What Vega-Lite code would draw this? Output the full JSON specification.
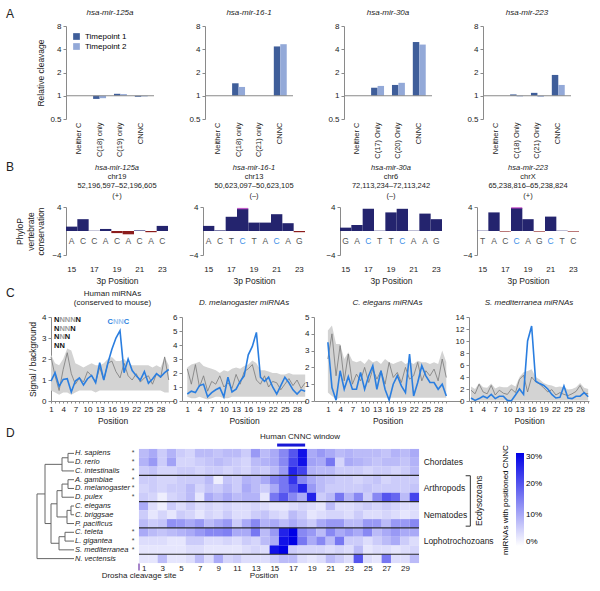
{
"$schema":"https://vega.github.io/schema/vega-lite/v6.json",
"padding":{"left":6,"top":8,"right":0,"bottom":0},
"background":"white",
"config":{
 "font":"Liberation Sans",
 "view":{"stroke":null},
 "axis":{"labelFontSize":8,"titleFontSize":8.5,"titleFontWeight":"normal","domainColor":"#8a8a8a","tickColor":"#8a8a8a","labelColor":"#222","titleColor":"#222","grid":false,"tickSize":3,"labelOverlap":false},
 "title":{"fontSize":8,"fontWeight":"normal","color":"#222","subtitleColor":"#222"},
 "legend":{"labelFontSize":8,"titleFontSize":8,"titleFontWeight":"normal"}
},
"spacing":2,
"vconcat":[
 {"bounds":"flush","spacing":51,"resolve":{"scale":{"x":"independent","y":"independent","color":"independent"}},"hconcat":[
  {"width":9,"height":93,"data":{"values":[{}]},"mark":{"type":"point","opacity":0},"encoding":{},"title":{"text":"A","anchor":"start","fontSize":12,"fontWeight":"normal","offset":5,"frame":"group"}},
  {"width":88,"height":93,"title":{"text":"hsa-mir-125a","fontStyle":"italic","offset":5},
   "data":{"values":[{"cat":"Neither C","tp":"Timepoint 1","val":1},{"cat":"Neither C","tp":"Timepoint 2","val":1},{"cat":"C(18) only","tp":"Timepoint 1","val":0.91},{"cat":"C(18) only","tp":"Timepoint 2","val":0.93},{"cat":"C(19) only","tp":"Timepoint 1","val":1.06},{"cat":"C(19) only","tp":"Timepoint 2","val":1.05},{"cat":"CNNC","tp":"Timepoint 1","val":0.97},{"cat":"CNNC","tp":"Timepoint 2","val":0.98}]},
   "layer":[
    {"mark":{"type":"bar"},"encoding":{
      "x":{"field":"cat","type":"nominal","sort":null,"scale":{"paddingInner":0.38,"paddingOuter":0.3},"axis":{"title":null,"labelAngle":-90,"domain":false,"ticks":false,"labelPadding":3,"labelFontSize":7.5}},
      "xOffset":{"field":"tp","type":"nominal"},
      "y":{"field":"val","type":"quantitative","scale":{"type":"log","domain":[0.5,8],"nice":false},"axis":{"values":[0.5,1,2,4,8],"title":"Relative cleavage","format":"~g","labelOverlap":false}},
      "y2":{"datum":1},
      "color":{"field":"tp","type":"nominal","scale":{"domain":["Timepoint 1","Timepoint 2"],"range":["#3f5e9a","#93a9d8"]},"legend":{"orient":"top-left","title":null,"symbolType":"square","symbolSize":45,"labelFontSize":8,"offset":6,"rowPadding":1}}}},
    {"data":{"values":[{}]},"mark":{"type":"rule","color":"#8a8a8a"},"encoding":{"y":{"datum":1}}}
   ]},
  {"width":88,"height":93,"title":{"text":"hsa-mir-16-1","fontStyle":"italic","offset":5},
   "data":{"values":[{"cat":"Neither C","tp":"Timepoint 1","val":1},{"cat":"Neither C","tp":"Timepoint 2","val":1},{"cat":"C(18) only","tp":"Timepoint 1","val":1.45},{"cat":"C(18) only","tp":"Timepoint 2","val":1.3},{"cat":"C(21) only","tp":"Timepoint 1","val":1},{"cat":"C(21) only","tp":"Timepoint 2","val":1},{"cat":"CNNC","tp":"Timepoint 1","val":4.35},{"cat":"CNNC","tp":"Timepoint 2","val":4.65}]},
   "layer":[
    {"mark":{"type":"bar"},"encoding":{
      "x":{"field":"cat","type":"nominal","sort":null,"scale":{"paddingInner":0.38,"paddingOuter":0.3},"axis":{"title":null,"labelAngle":-90,"domain":false,"ticks":false,"labelPadding":3,"labelFontSize":7.5}},
      "xOffset":{"field":"tp","type":"nominal"},
      "y":{"field":"val","type":"quantitative","scale":{"type":"log","domain":[0.5,8],"nice":false},"axis":{"values":[0.5,1,2,4,8],"title":null,"format":"~g","labelOverlap":false}},
      "y2":{"datum":1},
      "color":{"field":"tp","type":"nominal","scale":{"domain":["Timepoint 1","Timepoint 2"],"range":["#3f5e9a","#93a9d8"]},"legend":null}}},
    {"data":{"values":[{}]},"mark":{"type":"rule","color":"#8a8a8a"},"encoding":{"y":{"datum":1}}}
   ]},
  {"width":88,"height":93,"title":{"text":"hsa-mir-30a","fontStyle":"italic","offset":5},
   "data":{"values":[{"cat":"Neither C","tp":"Timepoint 1","val":1},{"cat":"Neither C","tp":"Timepoint 2","val":1},{"cat":"C(17) Only","tp":"Timepoint 1","val":1.27},{"cat":"C(17) Only","tp":"Timepoint 2","val":1.34},{"cat":"C(20) Only","tp":"Timepoint 1","val":1.38},{"cat":"C(20) Only","tp":"Timepoint 2","val":1.47},{"cat":"CNNC","tp":"Timepoint 1","val":4.96},{"cat":"CNNC","tp":"Timepoint 2","val":4.6}]},
   "layer":[
    {"mark":{"type":"bar"},"encoding":{
      "x":{"field":"cat","type":"nominal","sort":null,"scale":{"paddingInner":0.38,"paddingOuter":0.3},"axis":{"title":null,"labelAngle":-90,"domain":false,"ticks":false,"labelPadding":3,"labelFontSize":7.5}},
      "xOffset":{"field":"tp","type":"nominal"},
      "y":{"field":"val","type":"quantitative","scale":{"type":"log","domain":[0.5,8],"nice":false},"axis":{"values":[0.5,1,2,4,8],"title":null,"format":"~g","labelOverlap":false}},
      "y2":{"datum":1},
      "color":{"field":"tp","type":"nominal","scale":{"domain":["Timepoint 1","Timepoint 2"],"range":["#3f5e9a","#93a9d8"]},"legend":null}}},
    {"data":{"values":[{}]},"mark":{"type":"rule","color":"#8a8a8a"},"encoding":{"y":{"datum":1}}}
   ]},
  {"width":88,"height":93,"title":{"text":"hsa-mir-223","fontStyle":"italic","offset":5},
   "data":{"values":[{"cat":"Neither C","tp":"Timepoint 1","val":1},{"cat":"Neither C","tp":"Timepoint 2","val":1},{"cat":"C(18) Only","tp":"Timepoint 1","val":1.04},{"cat":"C(18) Only","tp":"Timepoint 2","val":0.98},{"cat":"C(21) Only","tp":"Timepoint 1","val":1.09},{"cat":"C(21) Only","tp":"Timepoint 2","val":0.97},{"cat":"CNNC","tp":"Timepoint 1","val":1.86},{"cat":"CNNC","tp":"Timepoint 2","val":1.38}]},
   "layer":[
    {"mark":{"type":"bar"},"encoding":{
      "x":{"field":"cat","type":"nominal","sort":null,"scale":{"paddingInner":0.38,"paddingOuter":0.3},"axis":{"title":null,"labelAngle":-90,"domain":false,"ticks":false,"labelPadding":3,"labelFontSize":7.5}},
      "xOffset":{"field":"tp","type":"nominal"},
      "y":{"field":"val","type":"quantitative","scale":{"type":"log","domain":[0.5,8],"nice":false},"axis":{"values":[0.5,1,2,4,8],"title":null,"format":"~g","labelOverlap":false}},
      "y2":{"datum":1},
      "color":{"field":"tp","type":"nominal","scale":{"domain":["Timepoint 1","Timepoint 2"],"range":["#3f5e9a","#93a9d8"]},"legend":null}}},
    {"data":{"values":[{}]},"mark":{"type":"rule","color":"#8a8a8a"},"encoding":{"y":{"datum":1}}}
   ]}
 ]},
 {"bounds":"flush","spacing":35,"resolve":{"scale":{"x":"independent","y":"independent","color":"independent"}},"hconcat":[
  {"width":25,"height":48,"data":{"values":[{}]},"mark":{"type":"point","opacity":0},"encoding":{},"title":{"text":"B","anchor":"start","fontSize":12,"fontWeight":"normal","offset":33,"frame":"group"}},
  {"width":102,"height":48,
   "title":{"text":"hsa-mir-125a","subtitle":["chr19","52,196,597–52,196,605","(+)"],"fontStyle":"italic","subtitleFontStyle":"normal","fontSize":7.5,"subtitleFontSize":7.5,"subtitlePadding":1,"offset":4},
   "data":{"values":[{"pos":15,"v":0.73,"nt":"A","hl":false,"mg":false},{"pos":16,"v":1.97,"nt":"C","hl":false,"mg":false},{"pos":17,"v":0.05,"nt":"C","hl":false,"mg":false},{"pos":18,"v":0.34,"nt":"A","hl":false,"mg":false},{"pos":19,"v":-0.35,"nt":"C","hl":false,"mg":false},{"pos":20,"v":-0.55,"nt":"A","hl":false,"mg":false},{"pos":21,"v":0.1,"nt":"C","hl":false,"mg":false},{"pos":22,"v":-0.2,"nt":"A","hl":false,"mg":false},{"pos":23,"v":0.85,"nt":"C","hl":false,"mg":false}]},
   "layer":[
    {"mark":{"type":"bar"},"encoding":{
      "x":{"field":"pos","type":"ordinal","scale":{"paddingInner":0,"paddingOuter":0},"axis":{"labelAngle":0,"ticks":false,"domain":false,"labelPadding":10,"labelExpr":"datum.value % 2 == 1 ? datum.label : ''","title":"3p Position","titlePadding":3}},
      "y":{"field":"v","type":"quantitative","scale":{"domain":[-4,4],"nice":false},"axis":{"values":[-4,0,4],"title":["PhyloP","vertebrate","conservation"],"titlePadding":6,"labelOverlap":false}},
      "color":{"condition":{"test":"datum.v < 0","value":"#8c1d1d"},"value":"#24246e"}}},
    {"mark":{"type":"text","fontSize":8.5,"baseline":"middle"},"encoding":{
      "x":{"field":"pos","type":"ordinal"},"y":{"datum":-1.6},"text":{"field":"nt"},
      "color":{"condition":{"test":"datum.hl","value":"#3d8ee8"},"value":"#555555"}}}
   ]},
  {"width":102,"height":48,
   "title":{"text":"hsa-mir-16-1","subtitle":["chr13","50,623,097–50,623,105","(–)"],"fontStyle":"italic","subtitleFontStyle":"normal","fontSize":7.5,"subtitleFontSize":7.5,"subtitlePadding":1,"offset":4},
   "data":{"values":[{"pos":15,"v":0.85,"nt":"A","hl":false,"mg":false},{"pos":16,"v":0.1,"nt":"C","hl":false,"mg":false},{"pos":17,"v":2.37,"nt":"T","hl":false,"mg":false},{"pos":18,"v":3.73,"nt":"C","hl":true,"mg":true},{"pos":19,"v":1.4,"nt":"T","hl":false,"mg":false},{"pos":20,"v":1.4,"nt":"A","hl":false,"mg":false},{"pos":21,"v":2.8,"nt":"C","hl":true,"mg":false},{"pos":22,"v":1.3,"nt":"A","hl":false,"mg":false},{"pos":23,"v":-0.2,"nt":"G","hl":false,"mg":false}]},
   "layer":[
    {"mark":{"type":"bar"},"encoding":{
      "x":{"field":"pos","type":"ordinal","scale":{"paddingInner":0,"paddingOuter":0},"axis":{"labelAngle":0,"ticks":false,"domain":false,"labelPadding":10,"labelExpr":"datum.value % 2 == 1 ? datum.label : ''","title":"3p Position","titlePadding":3}},
      "y":{"field":"v","type":"quantitative","scale":{"domain":[-4,4],"nice":false},"axis":{"values":[-4,0,4],"title":null,"labelOverlap":false}},
      "color":{"condition":{"test":"datum.v < 0","value":"#8c1d1d"},"value":"#24246e"}}},
    {"transform":[{"filter":"datum.mg"}],"mark":{"type":"tick","color":"#c83cc8","thickness":1.5,"size":11},"encoding":{
      "x":{"field":"pos","type":"ordinal"},"y":{"field":"v","type":"quantitative"}}},
    {"mark":{"type":"text","fontSize":8.5,"baseline":"middle"},"encoding":{
      "x":{"field":"pos","type":"ordinal"},"y":{"datum":-1.6},"text":{"field":"nt"},
      "color":{"condition":{"test":"datum.hl","value":"#3d8ee8"},"value":"#555555"}}}
   ]},
  {"width":102,"height":48,
   "title":{"text":"hsa-mir-30a","subtitle":["chr6","72,113,234–72,113,242","(–)"],"fontStyle":"italic","subtitleFontStyle":"normal","fontSize":7.5,"subtitleFontSize":7.5,"subtitlePadding":1,"offset":4},
   "data":{"values":[{"pos":15,"v":0.56,"nt":"G","hl":false},{"pos":16,"v":1.0,"nt":"A","hl":false},{"pos":17,"v":3.7,"nt":"C","hl":true},{"pos":18,"v":0.05,"nt":"T","hl":false},{"pos":19,"v":3.1,"nt":"T","hl":false},{"pos":20,"v":3.7,"nt":"C","hl":true},{"pos":21,"v":0.05,"nt":"A","hl":false},{"pos":22,"v":2.9,"nt":"A","hl":false},{"pos":23,"v":1.97,"nt":"G","hl":false}]},
   "layer":[
    {"mark":{"type":"bar"},"encoding":{
      "x":{"field":"pos","type":"ordinal","scale":{"paddingInner":0,"paddingOuter":0},"axis":{"labelAngle":0,"ticks":false,"domain":false,"labelPadding":10,"labelExpr":"datum.value % 2 == 1 ? datum.label : ''","title":"3p Position","titlePadding":3}},
      "y":{"field":"v","type":"quantitative","scale":{"domain":[-4,4],"nice":false},"axis":{"values":[-4,0,4],"title":null,"labelOverlap":false}},
      "color":{"condition":{"test":"datum.v < 0","value":"#8c1d1d"},"value":"#24246e"}}},
    {"mark":{"type":"text","fontSize":8.5,"baseline":"middle"},"encoding":{
      "x":{"field":"pos","type":"ordinal"},"y":{"datum":-1.6},"text":{"field":"nt"},
      "color":{"condition":{"test":"datum.hl","value":"#3d8ee8"},"value":"#555555"}}}
   ]},
  {"width":102,"height":48,
   "title":{"text":"hsa-mir-223","subtitle":["chrX","65,238,816–65,238,824","(+)"],"fontStyle":"italic","subtitleFontStyle":"normal","fontSize":7.5,"subtitleFontSize":7.5,"subtitlePadding":1,"offset":4},
   "data":{"values":[{"pos":15,"v":0.05,"nt":"T","hl":false,"mg":false},{"pos":16,"v":3.1,"nt":"A","hl":false,"mg":false},{"pos":17,"v":-0.1,"nt":"C","hl":false,"mg":false},{"pos":18,"v":3.85,"nt":"C","hl":true,"mg":true},{"pos":19,"v":1.97,"nt":"A","hl":false,"mg":false},{"pos":20,"v":-0.1,"nt":"G","hl":false,"mg":false},{"pos":21,"v":2.4,"nt":"C","hl":true,"mg":false},{"pos":22,"v":0.05,"nt":"T","hl":false,"mg":false},{"pos":23,"v":-0.1,"nt":"C","hl":false,"mg":false}]},
   "layer":[
    {"mark":{"type":"bar"},"encoding":{
      "x":{"field":"pos","type":"ordinal","scale":{"paddingInner":0,"paddingOuter":0},"axis":{"labelAngle":0,"ticks":false,"domain":false,"labelPadding":10,"labelExpr":"datum.value % 2 == 1 ? datum.label : ''","title":"3p Position","titlePadding":3}},
      "y":{"field":"v","type":"quantitative","scale":{"domain":[-4,4],"nice":false},"axis":{"values":[-4,0,4],"title":null,"labelOverlap":false}},
      "color":{"condition":{"test":"datum.v < 0","value":"#8c1d1d"},"value":"#24246e"}}},
    {"transform":[{"filter":"datum.mg"}],"mark":{"type":"tick","color":"#c83cc8","thickness":1.5,"size":11},"encoding":{
      "x":{"field":"pos","type":"ordinal"},"y":{"field":"v","type":"quantitative"}}},
    {"mark":{"type":"text","fontSize":8.5,"baseline":"middle"},"encoding":{
      "x":{"field":"pos","type":"ordinal"},"y":{"datum":-1.6},"text":{"field":"nt"},
      "color":{"condition":{"test":"datum.hl","value":"#3d8ee8"},"value":"#555555"}}}
   ]}
 ]},
 {"bounds":"flush","spacing":8,"resolve":{"scale":{"x":"independent","y":"independent","color":"independent"}},"hconcat":[
  {"width":37,"height":84,"data":{"values":[{}]},"mark":{"type":"point","opacity":0},"encoding":{},"title":{"text":"C","anchor":"start","fontSize":12,"fontWeight":"normal","offset":17,"frame":"group"}},
  {"width":123,"height":84,
   "title":{"text":["Human miRNAs","(conserved to mouse)"],"offset":6,"fontSize":8,"lineHeight":9},
   "data":{"values":[{"p":[1,2,3,4,5,6,7,8,9,10,11,12,13,14,15,16,17,18,19,20,21,22,23,24,25,26,27,28,29,30],
     "lo":[0.5,0.4,0.3,0.4,0.4,0.3,0.4,0.5,0.5,0.5,0.5,0.4,0.5,0.5,0.5,0.5,0.5,0.5,0.5,0.5,0.5,0.5,0.5,0.5,0.5,0.5,0.5,0.5,0.4,0.4],
     "hi":[2.2,1.8,1.7,2.0,2.5,2.4,1.8,1.7,1.6,1.7,1.8,1.7,1.7,1.8,2.0,2.1,1.9,1.9,2.0,1.8,1.7,1.7,1.7,1.7,1.7,1.6,1.7,1.6,2.1,1.7],
     "g":[2.1,1.2,0.5,1.5,2.3,1.3,0.8,1.1,0.9,1.4,1.2,0.9,1.6,1.0,1.8,1.9,1.4,1.1,1.8,1.2,1.0,1.3,0.9,1.1,1.2,0.8,1.3,1.1,2.1,1.0],
     "b":[0.95,1.35,0.7,1.03,1.06,0.43,0.95,1.1,0.76,1.06,1.22,0.87,1.83,1.0,1.8,2.46,3.0,3.35,1.35,2.0,1.45,1.2,1.0,1.4,0.85,1.05,1.3,1.15,1.35,1.5]}]},
   "encoding":{"x":{"field":"p","type":"quantitative","scale":{"domain":[1,31.3],"nice":false,"zero":false},"axis":{"values":[1,2,3,4,5,6,7,8,9,10,11,12,13,14,15,16,17,18,19,20,21,22,23,24,25,26,27,28,29,30],"labelExpr":"(datum.value - 1) % 3 == 0 && datum.value < 30 ? datum.label : ''","labelOverlap":false,"labelFlush":false,"labelBound":false,"tickSize":2,"title":"Position","labelPadding":2,"titlePadding":3}},
     "y":{"type":"quantitative","scale":{"domain":[0,4],"nice":false},"axis":{"values":[0,1,2,3,4],"title":"Signal / background","labelOverlap":false,"labelFlush":false}}},
   "layer":[
    {"transform":[{"flatten":["p","lo","hi","g","b"]}],"mark":{"type":"area","color":"#d3d3d3"},"encoding":{"y":{"field":"lo"},"y2":{"field":"hi"}}},
    {"transform":[{"flatten":["p","lo","hi","g","b"]}],"mark":{"type":"line","color":"#7a7a7a","strokeWidth":0.8},"encoding":{"y":{"field":"g"}}},
    {"transform":[{"flatten":["p","lo","hi","g","b"]}],"mark":{"type":"line","color":"#2a7ee0","strokeWidth":1.6},"encoding":{"y":{"field":"b"}}},
    {"data":{"values":[
      {"p":2.4,"y":3.86,"t":"N","k":"d"},{"p":3.73,"y":3.86,"t":"N","k":"g"},{"p":5.06,"y":3.86,"t":"N","k":"g"},{"p":6.4,"y":3.86,"t":"N","k":"g"},{"p":7.73,"y":3.86,"t":"N","k":"d"},
      {"p":2.4,"y":3.45,"t":"N","k":"d"},{"p":3.73,"y":3.45,"t":"N","k":"g"},{"p":5.06,"y":3.45,"t":"N","k":"g"},{"p":6.4,"y":3.45,"t":"N","k":"d"},
      {"p":2.4,"y":3.04,"t":"N","k":"d"},{"p":3.73,"y":3.04,"t":"N","k":"g"},{"p":5.06,"y":3.04,"t":"N","k":"d"},
      {"p":2.4,"y":2.62,"t":"N","k":"d"},{"p":3.73,"y":2.62,"t":"N","k":"d"},
      {"p":15.6,"y":3.75,"t":"C","k":"b"},{"p":16.93,"y":3.75,"t":"N","k":"l"},{"p":18.26,"y":3.75,"t":"N","k":"l"},{"p":19.6,"y":3.75,"t":"C","k":"b"}]},
     "mark":{"type":"text","fontWeight":"bold","fontSize":7.5,"baseline":"middle"},
     "encoding":{"y":{"field":"y"},"text":{"field":"t"},
      "color":{"field":"k","type":"nominal","scale":{"domain":["d","g","b","l"],"range":["#111111","#9a9a9a","#2a7ee0","#9cc4ef"]},"legend":null}}}
   ]},
  {"width":124,"height":84,
   "title":{"text":"D. melanogaster miRNAs","fontStyle":"italic","offset":6,"fontSize":8},
   "data":{"values":[{"p":[1,2,3,4,5,6,7,8,9,10,11,12,13,14,15,16,17,18,19,20,21,22,23,24,25,26,27,28,29,30],
     "lo":[0.3,0.2,0.2,0.3,0.2,0.1,0.2,0.3,0.3,0.2,0.2,0.3,0.3,0.3,0.3,0.3,0.3,0.3,0.3,0.3,0.3,0.3,0.3,0.3,0.3,0.3,0.3,0.3,0.3,0.3],
     "hi":[2.4,2.6,2.7,2.8,2.5,2.4,2.3,2.2,2.0,2.2,2.1,2.3,2.4,2.3,2.5,2.6,2.9,2.7,2.2,2.2,2.1,2.0,2.0,1.9,1.9,2.0,1.9,1.9,1.9,1.9],
     "g":[2.3,1.2,2.6,1.0,1.8,0.7,1.4,1.2,1.8,1.0,1.3,0.9,1.9,1.2,2.1,2.3,2.6,1.5,1.2,1.8,1.0,1.4,1.3,0.8,1.2,1.6,1.1,1.5,0.9,1.3],
     "b":[0.5,0.7,0.6,1.1,1.2,0.3,0.6,0.8,0.95,0.3,1.7,0.65,0.85,1.4,1.8,3.3,3.9,4.9,1.7,1.4,1.7,1.0,0.5,1.1,1.7,1.3,0.8,0.5,0.8,0.7]}]},
   "transform":[{"flatten":["p","lo","hi","g","b"]}],
   "encoding":{"x":{"field":"p","type":"quantitative","scale":{"domain":[-0.3,30.2],"nice":false,"zero":false},"axis":{"values":[1,2,3,4,5,6,7,8,9,10,11,12,13,14,15,16,17,18,19,20,21,22,23,24,25,26,27,28,29,30],"labelExpr":"(datum.value - 1) % 3 == 0 && datum.value < 30 ? datum.label : ''","labelOverlap":false,"labelFlush":false,"labelBound":false,"tickSize":2,"title":"Position","labelPadding":2,"titlePadding":3}},
     "y":{"type":"quantitative","scale":{"domain":[0,6],"nice":false},"axis":{"values":[0,1,2,3,4,5,6],"title":null,"labelOverlap":false,"labelFlush":false}}},
   "layer":[
    {"mark":{"type":"area","color":"#d3d3d3"},"encoding":{"y":{"field":"lo"},"y2":{"field":"hi"}}},
    {"mark":{"type":"line","color":"#7a7a7a","strokeWidth":0.8},"encoding":{"y":{"field":"g"}}},
    {"mark":{"type":"line","color":"#2a7ee0","strokeWidth":1.6},"encoding":{"y":{"field":"b"}}}
   ]},
  {"width":147,"height":84,
   "title":{"text":"C. elegans miRNAs","fontStyle":"italic","offset":6,"fontSize":8},
   "data":{"values":[{"p":[1,2,3,4,5,6,7,8,9,10,11,12,13,14,15,16,17,18,19,20,21,22,23,24,25,26,27,28,29,30],
     "lo":[0.5,0.3,0.1,0.2,0.2,0.2,0.2,0.2,0.2,0.2,0.2,0.2,0.2,0.2,0.2,0.2,0.2,0.2,0.2,0.2,0.2,0.2,0.2,0.2,0.2,0.2,0.2,0.2,0.2,0.2],
     "hi":[4.2,4.5,3.4,3.4,2.5,2.9,2.4,2.3,2.4,2.2,2.5,2.3,2.4,2.2,2.5,2.3,2.2,2.3,2.4,2.2,2.3,2.2,2.4,2.3,2.3,2.2,2.3,2.2,3.0,2.3],
     "g":[2.5,4.0,1.5,3.3,1.2,2.8,1.0,1.6,1.2,2.0,1.1,1.9,1.3,1.8,1.0,2.3,1.4,1.7,1.1,2.0,1.3,1.5,2.3,1.2,1.8,1.5,1.9,1.2,2.5,1.4],
     "b":[3.5,0.8,0.05,1.8,0.7,1.45,0.7,0.7,1.7,0.7,1.5,2.1,0.7,1.8,0.7,0.05,1.0,1.5,0.9,0.5,2.8,0.3,1.1,2.1,1.5,1.1,1.1,0.7,1.0,0.3]}]},
   "transform":[{"flatten":["p","lo","hi","g","b"]}],
   "encoding":{"x":{"field":"p","type":"quantitative","scale":{"domain":[-2.4,33.6],"nice":false,"zero":false},"axis":{"values":[1,2,3,4,5,6,7,8,9,10,11,12,13,14,15,16,17,18,19,20,21,22,23,24,25,26,27,28,29,30],"labelExpr":"(datum.value - 1) % 3 == 0 && datum.value < 30 ? datum.label : ''","labelOverlap":false,"labelFlush":false,"labelBound":false,"tickSize":2,"title":"Position","labelPadding":2,"titlePadding":3}},
     "y":{"type":"quantitative","scale":{"domain":[0,5],"nice":false},"axis":{"values":[0,1,2,3,4,5],"title":null,"labelOverlap":false,"labelFlush":false}}},
   "layer":[
    {"mark":{"type":"area","color":"#d3d3d3"},"encoding":{"y":{"field":"lo"},"y2":{"field":"hi"}}},
    {"mark":{"type":"line","color":"#7a7a7a","strokeWidth":0.8},"encoding":{"y":{"field":"g"}}},
    {"mark":{"type":"line","color":"#2a7ee0","strokeWidth":1.6},"encoding":{"y":{"field":"b"}}}
   ]},
  {"width":120,"height":84,
   "title":{"text":"S. mediterranea miRNAs","fontStyle":"italic","offset":6,"fontSize":8},
   "data":{"values":[{"p":[1,2,3,4,5,6,7,8,9,10,11,12,13,14,15,16,17,18,19,20,21,22,23,24,25,26,27,28,29,30],
     "lo":[0.1,0.1,0.1,0.1,0.1,0.1,0.1,0.1,0.1,0.1,0.1,0.1,0.1,0.1,0.1,0.1,0.1,0.1,0.1,0.1,0.1,0.1,0.1,0.1,0.1,0.1,0.1,0.1,0.1,0.1],
     "hi":[2.4,2.0,3.0,2.3,2.2,2.9,2.1,2.4,2.3,2.3,2.8,2.4,4.0,4.8,5.0,5.3,4.0,3.6,3.0,2.7,2.6,2.3,2.4,2.3,1.9,2.0,2.3,3.0,2.2,2.0],
     "g":[1.8,1.2,2.8,1.5,1.2,2.6,1.0,1.8,1.3,1.1,2.0,1.4,3.6,4.3,1.5,4.0,3.2,2.8,2.2,1.5,1.9,1.0,1.4,1.1,0.9,1.2,1.6,2.6,1.3,1.2],
     "b":[0.5,0.1,0.4,0.8,0.5,1.1,0.4,0.8,0.8,0.1,0.05,1.0,2.0,1.1,10.0,12.5,3.3,2.9,2.6,2.0,1.1,0.5,0.6,2.5,0.5,0.4,0.8,0.8,1.4,0.7]}]},
   "transform":[{"flatten":["p","lo","hi","g","b"]}],
   "encoding":{"x":{"field":"p","type":"quantitative","scale":{"domain":[0.5,30.2],"nice":false,"zero":false},"axis":{"values":[1,2,3,4,5,6,7,8,9,10,11,12,13,14,15,16,17,18,19,20,21,22,23,24,25,26,27,28,29,30],"labelExpr":"(datum.value - 1) % 3 == 0 && datum.value < 30 ? datum.label : ''","labelOverlap":false,"labelFlush":false,"labelBound":false,"tickSize":2,"title":"Position","labelPadding":2,"titlePadding":3}},
     "y":{"type":"quantitative","scale":{"domain":[0,14],"nice":false},"axis":{"values":[0,2,4,6,8,10,12,14],"title":null,"labelOverlap":false,"labelFlush":false}}},
   "layer":[
    {"mark":{"type":"area","color":"#d3d3d3"},"encoding":{"y":{"field":"lo"},"y2":{"field":"hi"}}},
    {"mark":{"type":"line","color":"#7a7a7a","strokeWidth":0.8},"encoding":{"y":{"field":"g"}}},
    {"mark":{"type":"line","color":"#2a7ee0","strokeWidth":1.6},"encoding":{"y":{"field":"b"}}}
   ]}
 ]},
 {"bounds":"flush","spacing":0,"resolve":{"scale":{"x":"independent","y":"independent","color":"independent"}},"hconcat":[
  {"width":31,"height":114,"data":{"values":[{}]},"mark":{"type":"point","opacity":0},"encoding":{},"title":{"text":"D","anchor":"start","fontSize":12,"fontWeight":"normal","offset":9,"frame":"group"}},
  {"width":102,"height":114,
   "layer":[
    {"data":{"values":[
      {"x":31,"x2":31,"y":1,"y2":2},{"x":25,"x2":25,"y":1.5,"y2":3},{"x":31,"x2":31,"y":4,"y2":5},{"x":25,"x2":25,"y":4.5,"y2":6},{"x":34,"x2":34,"y":7,"y2":8},{"x":30,"x2":30,"y":7.5,"y2":9},{"x":20,"x2":20,"y":5.25,"y2":8.25},{"x":28,"x2":28,"y":10,"y2":11},{"x":22,"x2":22,"y":10.5,"y2":12},{"x":14,"x2":14,"y":6.75,"y2":11.25},{"x":8,"x2":8,"y":2.25,"y2":9},{"x":0,"x2":0,"y":5.625,"y2":13},
      {"x":31,"x2":37,"y":1,"y2":1},{"x":31,"x2":37,"y":2,"y2":2},{"x":25,"x2":31,"y":1.5,"y2":1.5},{"x":25,"x2":37,"y":3,"y2":3},{"x":31,"x2":37,"y":4,"y2":4},{"x":31,"x2":37,"y":5,"y2":5},{"x":25,"x2":31,"y":4.5,"y2":4.5},{"x":25,"x2":37,"y":6,"y2":6},{"x":34,"x2":37,"y":7,"y2":7},{"x":34,"x2":37,"y":8,"y2":8},{"x":30,"x2":34,"y":7.5,"y2":7.5},{"x":30,"x2":37,"y":9,"y2":9},{"x":20,"x2":25,"y":5.25,"y2":5.25},{"x":20,"x2":30,"y":8.25,"y2":8.25},{"x":28,"x2":37,"y":10,"y2":10},{"x":28,"x2":37,"y":11,"y2":11},{"x":22,"x2":28,"y":10.5,"y2":10.5},{"x":22,"x2":37,"y":12,"y2":12},{"x":14,"x2":20,"y":6.75,"y2":6.75},{"x":14,"x2":22,"y":11.25,"y2":11.25},{"x":8,"x2":25,"y":2.25,"y2":2.25},{"x":8,"x2":14,"y":9,"y2":9},{"x":0,"x2":8,"y":5.625,"y2":5.625},{"x":0,"x2":37,"y":13,"y2":13}]},
     "mark":{"type":"rule","color":"#666666","strokeWidth":1},
     "encoding":{"x":{"field":"x","type":"quantitative","scale":{"domain":[0,102],"nice":false,"zero":false},"axis":null},"x2":{"field":"x2"},
       "y":{"field":"y","type":"quantitative","scale":{"domain":[0.5,13.5],"nice":false,"zero":false,"reverse":true},"axis":null},"y2":{"field":"y2"}}},
    {"data":{"values":[{"r":1,"n":"H. sapiens","s":"*"},{"r":2,"n":"D. rerio","s":"*"},{"r":3,"n":"C. intestinalis","s":"*"},{"r":4,"n":"A. gambiae","s":"*"},{"r":5,"n":"D. melanogaster","s":"*"},{"r":6,"n":"D. pulex","s":"*"},{"r":7,"n":"C. elegans","s":""},{"r":8,"n":"C. briggsae","s":""},{"r":9,"n":"P. pacificus","s":""},{"r":10,"n":"C. teleta","s":"*"},{"r":11,"n":"L. gigantea","s":"*"},{"r":12,"n":"S. mediterranea","s":"*"},{"r":13,"n":"N. vectensis","s":""}]},
     "layer":[
      {"mark":{"type":"text","align":"left","baseline":"middle","fontStyle":"italic","fontSize":7.5,"color":"#222222"},"encoding":{"x":{"datum":38},"y":{"field":"r","type":"quantitative"},"text":{"field":"n"}}},
      {"mark":{"type":"text","align":"center","baseline":"middle","fontSize":7,"color":"#444444"},"encoding":{"x":{"datum":96},"y":{"field":"r","type":"quantitative"},"text":{"field":"s"}}}
     ]}
   ]},
  {"width":280,"height":114,
   "encoding":{
     "x":{"field":"p","type":"quantitative","scale":{"domain":[0.5,30.5],"nice":false,"zero":false},"axis":{"values":[1,3,5,7,9,11,13,15,17,19,21,23,25,27,29],"title":null,"domain":false,"ticks":false,"labelPadding":1,"labelFontSize":8,"labelOverlap":false,"labelFlush":false,"labelBound":false}},
     "y":{"field":"r","type":"quantitative","scale":{"domain":[0.5,13.5],"nice":false,"zero":false,"reverse":true},"axis":null}},
   "layer":[
    {"data":{"values":[
      {"r":1,"p":[1,2,3,4,5,6,7,8,9,10,11,12,13,14,15,16,17,18,19,20,21,22,23,24,25,26,27,28,29,30],"v":[8,10,6,9,6,5,8,8,7,8,8,6,12,8,10,14,20,28,10,12,10,8,9,8,8,8,7,9,8,10]},
      {"r":2,"p":[1,2,3,4,5,6,7,8,9,10,11,12,13,14,15,16,17,18,19,20,21,22,23,24,25,26,27,28,29,30],"v":[9,12,6,11,5,5,6,7,8,7,6,5,8,9,10,14,22,28,11,10,16,5,10,9,8,7,8,8,7,9]},
      {"r":3,"p":[1,2,3,4,5,6,7,8,9,10,11,12,13,14,15,16,17,18,19,20,21,22,23,24,25,26,27,28,29,30],"v":[6,7,5,5,6,6,5,6,6,5,6,5,7,6,8,12,26,22,9,8,8,6,6,6,5,6,6,5,6,8]},
      {"r":4,"p":[1,2,3,4,5,6,7,8,9,10,11,12,13,14,15,16,17,18,19,20,21,22,23,24,25,26,27,28,29,30],"v":[6,6,5,5,6,6,6,8,2,7,6,9,8,10,14,16,24,14,10,8,7,6,6,5,6,7,5,6,6,6]},
      {"r":5,"p":[1,2,3,4,5,6,7,8,9,10,11,12,13,14,15,16,17,18,19,20,21,22,23,24,25,26,27,28,29,30],"v":[5,6,5,6,6,8,5,7,6,8,6,10,8,6,10,16,20,26,12,8,6,6,6,6,7,6,6,6,6,7]},
      {"r":6,"p":[1,2,3,4,5,6,7,8,9,10,11,12,13,14,15,16,17,18,19,20,21,22,23,24,25,26,27,28,29,30],"v":[6,5,2,5,6,8,3,10,8,10,8,9,9,3,16,20,14,10,26,6,8,16,9,14,6,14,20,18,8,22]},
      {"r":7,"p":[1,2,3,4,5,6,7,8,9,10,11,12,13,14,15,16,17,18,19,20,21,22,23,24,25,26,27,28,29,30],"v":[10,4,2,6,4,6,4,5,4,5,4,4,5,4,3,3,4,5,4,3,8,4,4,5,6,5,6,5,4,4]},
      {"r":8,"p":[1,2,3,4,5,6,7,8,9,10,11,12,13,14,15,16,17,18,19,20,21,22,23,24,25,26,27,28,29,30],"v":[6,3,5,3,6,5,3,5,4,6,4,4,6,7,5,4,8,6,3,4,5,5,4,6,4,4,5,4,3,4]},
      {"r":9,"p":[1,2,3,4,5,6,7,8,9,10,11,12,13,14,15,16,17,18,19,20,21,22,23,24,25,26,27,28,29,30],"v":[8,6,7,13,12,10,12,8,10,12,6,10,14,9,10,8,10,8,6,10,12,12,8,8,12,12,8,12,12,14]},
      {"r":10,"p":[1,2,3,4,5,6,7,8,9,10,11,12,13,14,15,16,17,18,19,20,21,22,23,24,25,26,27,28,29,30],"v":[10,8,7,8,9,10,12,14,14,15,10,10,16,8,12,26,30,14,12,8,14,10,12,10,14,8,10,12,10,10]},
      {"r":11,"p":[1,2,3,4,5,6,7,8,9,10,11,12,13,14,15,16,17,18,19,20,21,22,23,24,25,26,27,28,29,30],"v":[4,4,4,3,3,6,6,4,4,5,4,6,5,8,10,28,30,16,10,14,8,16,6,6,4,6,8,10,6,4]},
      {"r":12,"p":[1,2,3,4,5,6,7,8,9,10,11,12,13,14,15,16,17,18,19,20,21,22,23,24,25,26,27,28,29,30],"v":[3,3,3,3,3,4,4,3,3,3,3,4,5,4,28,30,6,5,5,5,4,5,4,8,3,4,4,3,4,5]},
      {"r":13,"p":[1,2,3,4,5,6,7,8,9,10,11,12,13,14,15,16,17,18,19,20,21,22,23,24,25,26,27,28,29,30],"v":[3,3,8,3,3,4,8,4,10,5,6,4,4,4,6,8,8,4,3,4,8,6,4,20,4,3,16,4,4,8]}]},
     "transform":[{"flatten":["p","v"]}],
     "mark":{"type":"rect","width":9.45,"height":8.9},
     "encoding":{
      "color":{"field":"v","type":"quantitative","scale":{"domain":[0,30],"range":["#ffffff","#0000e6"],"interpolate":"rgb"},
        "legend":{"orient":"none","legendX":363,"legendY":4,"direction":"vertical","gradientLength":93,"gradientThickness":8,"title":"miRNAs with positioned CNNC","titleOrient":"left","titleAnchor":"middle","titleFontSize":8,"values":[0,10,20,30],"labelExpr":"datum.value + '%'","labelFontSize":8}}}},
    {"data":{"values":[{"r":3.5,"p":0.5,"p2":30.5},{"r":6.5,"p":0.5,"p2":30.5},{"r":9.5,"p":0.5,"p2":30.5},{"r":12.5,"p":0.5,"p2":30.5}]},
     "mark":{"type":"rule","color":"#2a2a2a","strokeWidth":1.2},
     "encoding":{"x2":{"field":"p2"}}},
    {"data":{"values":[{"p":31,"r":2,"t":"Chordates"},{"p":31,"r":5,"t":"Arthropods"},{"p":31,"r":8,"t":"Nematodes"},{"p":31,"r":11,"t":"Lophotrochozoans"}]},
     "mark":{"type":"text","align":"left","baseline":"middle","fontSize":8.5,"color":"#222222"},
     "encoding":{"text":{"field":"t"}}},
    {"data":{"values":[{"p":36,"p2":36,"r":3.55,"r2":9.3},{"p":35.5,"p2":36,"r":3.55,"r2":3.55},{"p":35.5,"p2":36,"r":9.3,"r2":9.3}]},
     "mark":{"type":"rule","color":"#333333"},
     "encoding":{"x2":{"field":"p2"},"y2":{"field":"r2"}}},
    {"data":{"values":[{"p":36.9,"r":6.4,"t":"Ecdysozoans"}]},
     "mark":{"type":"text","angle":270,"align":"center","baseline":"middle","fontSize":8.5,"color":"#222222"},
     "encoding":{"text":{"field":"t"}}},
    {"data":{"values":[{"p":17.76,"r":-0.87,"t":"Human CNNC window"},{"p":0.5,"r":15.0,"t":"Drosha cleavage site"},{"p":13.9,"r":15.0,"t":"Position"}]},
     "mark":{"type":"text","align":"center","baseline":"middle","fontSize":8,"color":"#222222"},
     "encoding":{"text":{"field":"t"}}},
    {"data":{"values":[{"p":15.3,"p2":18.3,"r":0.05}]},
     "mark":{"type":"rule","color":"#1717d6","strokeWidth":3},
     "encoding":{"x2":{"field":"p2"}}},
    {"data":{"values":[{"p":0.5,"r":13.55,"r2":14.35}]},
     "mark":{"type":"rule","color":"#8a5cb8","strokeWidth":1.5},
     "encoding":{"y2":{"field":"r2"}}}
   ]}
 ]}
]
}
